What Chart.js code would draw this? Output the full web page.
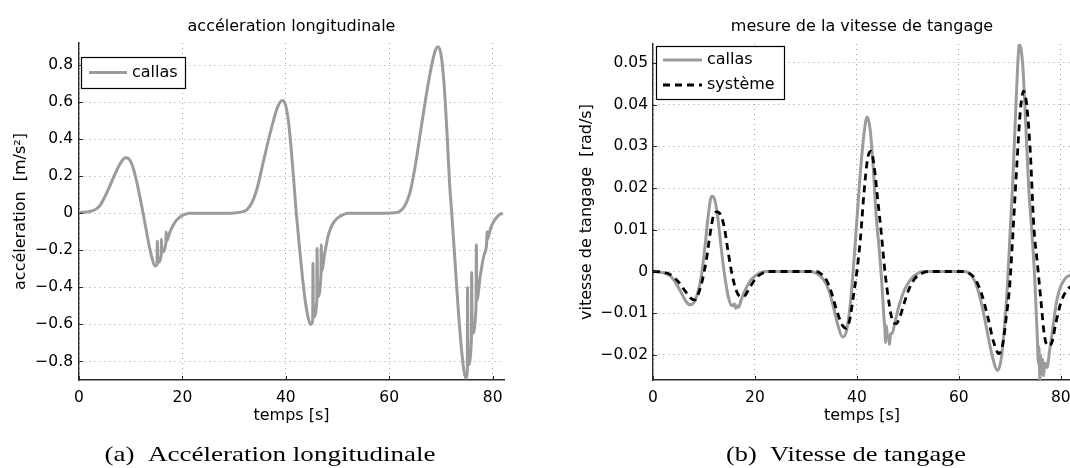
<!DOCTYPE html>
<html><head><meta charset="utf-8">
<script src="https://cdn.jsdelivr.net/npm/chart.js@4/dist/chart.umd.min.js"></script>
<style>
html,body{margin:0;padding:0;background:#fff;overflow:hidden;width:1070px;height:468px;}
#wa{position:absolute;left:0;top:0;width:540px;height:468px;}
#wb{position:absolute;left:540px;top:0;width:540px;height:468px;}
canvas{display:block;}
</style></head><body>
<div id="wa"><canvas id="ca" width="540" height="468" style="width:540px;height:468px"></canvas></div>
<div id="wb"><canvas id="cb" width="540" height="468" style="width:540px;height:468px"></canvas></div>
<script>
// ---------- data ----------
const xTicks = [0, 20, 40, 60, 80];
const yTicksA = [-0.8, -0.6, -0.4, -0.2, 0, 0.2, 0.4, 0.6, 0.8];
const yTicksB = [-0.02, -0.01, 0, 0.01, 0.02, 0.03, 0.04, 0.05];

// (a) longitudinal acceleration, callas
const timeA = [0,1,2,3,4,5,6,7,8,9,9.6,10.3,11,11.7,12.4,13,13.6,14.2,14.7,15.1,15.15,15.25,15.9,15.95,16.05,16.8,16.85,16.95,17.6,18.5,19.5,20.5,21.5,27,30,31.5,32.5,33.5,34.5,35.5,36.5,37.5,38.5,39.3,39.9,40.5,41,41.5,42,42.6,43.2,43.8,44.3,44.8,45.2,45.25,45.35,46,46.05,46.15,46.8,46.85,46.95,47.5,48.2,49,50,51,52,58,61,62,63,64,65,66,67,68,68.8,69.4,70,70.6,71.2,71.7,72.1,72.7,73.3,73.9,74.4,74.8,75.1,75.15,75.25,75.9,75.95,76.05,76.8,76.85,76.95,77.6,78.4,78.85,78.9,79,79.6,80.3,81,81.6,82];
const accelCallas = [0.005,0.006,0.01,0.018,0.04,0.09,0.15,0.215,0.27,0.30,0.295,0.26,0.19,0.10,0.0,-0.09,-0.18,-0.25,-0.285,-0.275,-0.15,-0.265,-0.225,-0.14,-0.21,-0.16,-0.10,-0.15,-0.10,-0.05,-0.02,-0.006,0.0,0.0,0.002,0.008,0.02,0.06,0.14,0.26,0.38,0.49,0.58,0.61,0.59,0.50,0.36,0.19,0.01,-0.17,-0.34,-0.48,-0.56,-0.60,-0.58,-0.27,-0.56,-0.47,-0.19,-0.45,-0.33,-0.17,-0.31,-0.22,-0.12,-0.06,-0.025,-0.008,0.0,0.0,0.003,0.01,0.04,0.11,0.25,0.43,0.61,0.77,0.87,0.90,0.86,0.70,0.42,0.15,0.0,-0.25,-0.50,-0.71,-0.84,-0.89,-0.86,-0.40,-0.82,-0.68,-0.32,-0.65,-0.50,-0.17,-0.47,-0.34,-0.22,-0.16,-0.10,-0.14,-0.08,-0.04,-0.015,-0.003,0.0];

// (b) pitch rate, callas
const timeB = [0,2,3.5,4.5,5.5,6.5,7.2,8,8.8,9.5,10.2,10.8,11.5,12.1,12.7,13.3,14,14.8,15.5,16,16.2,16.5,16.8,17.3,18.2,19.2,20.5,22,31,32.5,33.5,34.5,35.5,36.3,37.2,37.9,38.6,39.2,39.8,40.5,41.3,42,42.6,43.2,43.8,44.4,44.9,45.3,45.5,45.6,45.8,46,46.2,46.4,46.6,46.9,47.5,48.3,49.3,50.5,52,53,61,62.5,63.5,64.5,65.5,66.5,67.6,68.3,68.9,69.5,70,70.6,71.2,71.9,72.5,73.1,73.7,74.3,74.9,75.4,75.6,75.7,75.9,76,76.2,76.4,76.6,76.9,77.3,77.8,78.5,79.2,80,81,82];
const pitchCallas = [0,-0.0003,-0.0012,-0.0028,-0.005,-0.0072,-0.008,-0.0075,-0.005,-0.001,0.006,0.013,0.018,0.0172,0.013,0.0065,-0.0005,-0.0062,-0.0082,-0.0078,-0.0088,-0.0082,-0.0086,-0.0068,-0.0042,-0.002,-0.0007,0,0,-0.0008,-0.002,-0.0045,-0.009,-0.013,-0.0157,-0.0145,-0.009,-0.001,0.009,0.021,0.032,0.037,0.034,0.025,0.013,0.005,-0.003,-0.011,-0.014,-0.017,-0.013,-0.016,-0.0155,-0.0175,-0.015,-0.0148,-0.012,-0.008,-0.0045,-0.002,-0.0004,0,0,-0.001,-0.0035,-0.008,-0.014,-0.020,-0.0237,-0.021,-0.014,-0.004,0.008,0.022,0.040,0.0545,0.050,0.036,0.020,0.010,-0.002,-0.016,-0.022,-0.018,-0.026,-0.020,-0.0245,-0.021,-0.025,-0.022,-0.023,-0.019,-0.013,-0.007,-0.0035,-0.0015,-0.0008];

// (b) pitch rate, système
const timeC = [0,2,3.5,5,6.5,7.5,8.2,9,9.7,10.5,11.2,11.9,12.6,13.3,14,14.7,15.4,16.3,17.2,18,19,20.2,21.5,23,32,33,34,35,36,37.2,37.9,38.6,39.3,40,40.7,41.4,42.1,42.8,43.4,44.1,44.8,45.5,46.3,47,47.7,48.4,49.3,50.3,51.5,53,54,61,62,63.2,64.5,65.7,66.8,67.9,68.6,69.3,70,70.6,71.4,72.1,72.7,73.3,74,74.7,75.4,76.1,76.8,77.5,78.2,79,80,81,82];
const pitchSysteme = [0,-0.0002,-0.0008,-0.0025,-0.005,-0.0065,-0.0068,-0.005,-0.002,0.003,0.009,0.0135,0.0143,0.0135,0.0105,0.005,0.0,-0.0045,-0.006,-0.0058,-0.0038,-0.0016,-0.0004,0,0,-0.0006,-0.002,-0.005,-0.0092,-0.0130,-0.0136,-0.0115,-0.006,0.0,0.008,0.019,0.027,0.0288,0.025,0.017,0.009,0.0,-0.0075,-0.0118,-0.0125,-0.011,-0.0075,-0.004,-0.0015,-0.0003,0,0,-0.0004,-0.0018,-0.0055,-0.011,-0.0168,-0.0197,-0.0175,-0.011,-0.003,0.009,0.026,0.039,0.0432,0.040,0.029,0.011,0.002,-0.007,-0.0155,-0.0178,-0.0172,-0.0125,-0.0075,-0.0048,-0.0035];

// ---------- helpers ----------
const zip = (xs, ys) => xs.map((x, i) => ({x: x, y: ys[i]}));
const GRAY = '#9b9b9b';
const AXIS = '#2b2b2b';
const SANS = 'DejaVu Sans';
const fmt = (d) => (v) => v === 0 ? '0' : (v < 0 ? '\u2212' : '') + Math.abs(v).toFixed(d);

function makeDecor(cfg) {
  return {
    id: 'decor' + cfg.key,
    afterDraw(chart) {
      const {ctx, chartArea: ca} = chart;
      const xs = chart.scales.x, ys = chart.scales.y;
      ctx.save();
      // inside tick marks
      ctx.strokeStyle = AXIS; ctx.lineWidth = 1; ctx.setLineDash([]);
      cfg.xTicks.forEach(v => {
        const p = Math.round(xs.getPixelForValue(v)) + 0.5;
        ctx.beginPath(); ctx.moveTo(p, ca.bottom); ctx.lineTo(p, ca.bottom - 4); ctx.stroke();
      });
      cfg.yTicks.forEach(v => {
        const p = Math.round(ys.getPixelForValue(v)) + 0.5;
        ctx.beginPath(); ctx.moveTo(ca.left, p); ctx.lineTo(ca.left + 4, p); ctx.stroke();
      });
      // titles
      const cx = (ca.left + ca.right) / 2;
      ctx.fillStyle = '#000';
      ctx.font = '16px "' + SANS + '"';
      ctx.textAlign = 'center'; ctx.textBaseline = 'alphabetic';
      ctx.fillText(cfg.title, cx, 31);
      ctx.fillText(cfg.xLabel, cx, 420);
      ctx.save();
      ctx.translate(cfg.yLabelX, (ca.top + ca.bottom) / 2);
      ctx.rotate(-Math.PI / 2);
      ctx.textBaseline = 'middle';
      ctx.fillText(cfg.yLabel, 0, 0);
      ctx.restore();
      // legend
      const L = cfg.legend;
      ctx.fillStyle = '#fff';
      ctx.fillRect(L.x, L.y, L.w, L.h);
      ctx.strokeStyle = '#000'; ctx.lineWidth = 1.2;
      ctx.strokeRect(L.x + 0.5, L.y + 0.5, L.w, L.h);
      L.rows.forEach(r => {
        const ds = chart.data.datasets[r.ds];
        ctx.strokeStyle = ds.borderColor; ctx.lineWidth = ds.borderWidth;
        ctx.setLineDash(ds.borderDash || []);
        ctx.beginPath(); ctx.moveTo(L.x1, r.y); ctx.lineTo(L.x2, r.y); ctx.stroke();
        ctx.setLineDash([]);
        ctx.fillStyle = '#000'; ctx.font = '16px "' + SANS + '"';
        ctx.textAlign = 'left'; ctx.textBaseline = 'middle';
        ctx.fillText(ds.label, L.tx, r.y);
      });
      // caption
      ctx.font = '22px "Liberation Serif"';
      ctx.textAlign = 'center'; ctx.textBaseline = 'alphabetic';
      ctx.fillStyle = '#000';
      const w = ctx.measureText(cfg.caption).width;
      ctx.save();
      ctx.translate(cfg.capX, 461);
      ctx.scale(cfg.capW / w, 1);
      ctx.fillText(cfg.caption, 0, 0);
      ctx.restore();
      ctx.restore();
    }
  };
}

function scaleOpts(min, max, ticks, digits, fitFn, pad) {
  return {
    type: 'linear', min: min, max: max,
    afterBuildTicks: s => { s.ticks = ticks.map(v => ({value: v})); },
    afterFit: fitFn,
    grid: { color: '#a0a0a0', lineWidth: 1, drawTicks: false },
    border: { display: true, color: AXIS, width: 1.4, dash: [1, 4] },
    ticks: {
      autoSkip: false, maxRotation: 0, minRotation: 0, padding: pad,
      color: '#000', font: { family: SANS, size: 15.5 },
      callback: digits === null ? (v => String(v)) : fmt(digits)
    }
  };
}

Chart.defaults.font.family = SANS;

new Chart(document.getElementById('ca'), {
  type: 'line',
  data: { datasets: [
    { label: 'callas', data: zip(timeA, accelCallas), borderColor: GRAY, borderWidth: 3,
      pointRadius: 0, fill: false, cubicInterpolationMode: 'monotone' }
  ]},
  options: {
    responsive: false, animation: false, devicePixelRatio: 1,
    layout: { padding: { left: 0, right: 36, top: 43, bottom: 0 } },
    plugins: { legend: { display: false }, tooltip: { enabled: false } },
    scales: {
      x: scaleOpts(0, 82.2, xTicks, null, s => { s.height = 88; }, 9),
      y: scaleOpts(-0.9, 0.92, yTicksA, 1, s => { s.width = 79; }, 6)
    }
  },
  plugins: [makeDecor({
    key: 'A', xTicks: xTicks, yTicks: yTicksA,
    title: 'accéleration longitudinale', xLabel: 'temps [s]',
    yLabel: 'accéleration  [m/s²]', yLabelX: 21,
    legend: { x: 81, y: 57, w: 104, h: 31, x1: 89, x2: 127, tx: 132, rows: [{ ds: 0, y: 72.5 }] },
    caption: '(a)  Accéleration longitudinale', capX: 270, capW: 331
  })]
});

new Chart(document.getElementById('cb'), {
  type: 'line',
  data: { datasets: [
    { label: 'callas', data: zip(timeB, pitchCallas), borderColor: GRAY, borderWidth: 3,
      pointRadius: 0, fill: false, cubicInterpolationMode: 'monotone', order: 2 },
    { label: 'système', data: zip(timeC, pitchSysteme), borderColor: '#000', borderWidth: 2.8,
      borderDash: [7, 5], pointRadius: 0, fill: false, cubicInterpolationMode: 'monotone', order: 1 }
  ]},
  options: {
    responsive: false, animation: false, devicePixelRatio: 1,
    layout: { padding: { left: 0, right: 9, top: 44, bottom: 0 } },
    plugins: { legend: { display: false }, tooltip: { enabled: false } },
    scales: {
      x: scaleOpts(0, 82, xTicks, null, s => { s.height = 88; }, 9),
      y: scaleOpts(-0.026, 0.0545, yTicksB, 2, s => { s.width = 113; }, 5)
    }
  },
  plugins: [makeDecor({
    key: 'B', xTicks: xTicks, yTicks: yTicksB,
    title: 'mesure de la vitesse de tangage', xLabel: 'temps [s]',
    yLabel: 'vitesse de tangage  [rad/s]', yLabelX: 47,
    legend: { x: 116, y: 46, w: 128, h: 53, x1: 123, x2: 162, tx: 167, rows: [{ ds: 0, y: 60 }, { ds: 1, y: 85 }] },
    caption: '(b)  Vitesse de tangage', capX: 306, capW: 240
  })]
});
</script>
</body></html>
